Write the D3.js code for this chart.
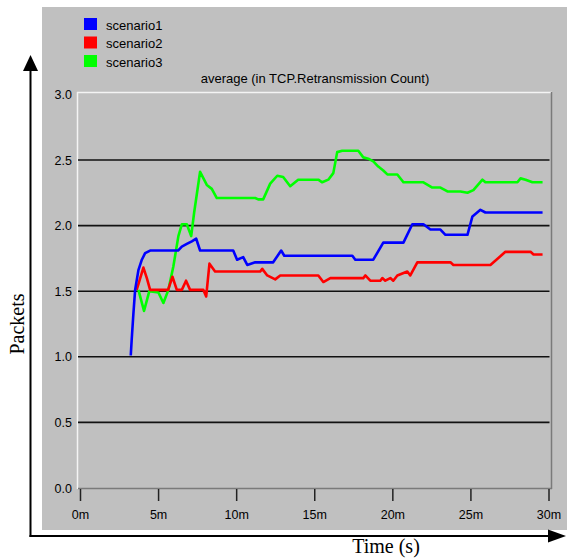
<!DOCTYPE html>
<html>
<head>
<meta charset="utf-8">
<script src="https://cdn.jsdelivr.net/npm/d3@7"></script>
<style>
body { margin: 0; background: #fff; }
svg text { font-family: "Liberation Sans", Arial, sans-serif; }
svg text.serif { font-family: "Liberation Serif", "Times New Roman", serif; }
</style>
</head>
<body>
<svg width="567" height="558"></svg>
<script>
// values (time in minutes)
var seriesNames = ["scenario1", "scenario2", "scenario3"];
var seriesColors = ["#0000ff", "#ff0000", "#00ff00"];

var s1Time = [3.25, 3.31, 3.42, 3.53, 3.74, 3.96, 4.17, 4.49, 6.28, 6.52, 6.84, 7.16, 7.44, 7.69, 9.81, 10.06, 10.45, 10.71, 11.22, 12.37, 12.88, 13.08, 17.44, 17.63, 18.78, 19.42, 20.71, 21.28, 21.99, 22.44, 23.08, 23.40, 24.81, 25.13, 25.64, 25.96, 29.62];
var s1Val  = [1.01, 1.13, 1.33, 1.51, 1.66, 1.74, 1.79, 1.81, 1.81, 1.84, 1.86, 1.88, 1.90, 1.81, 1.81, 1.74, 1.76, 1.70, 1.72, 1.72, 1.81, 1.77, 1.77, 1.74, 1.74, 1.87, 1.87, 2.01, 2.01, 1.97, 1.97, 1.93, 1.93, 2.07, 2.12, 2.10, 2.10];

var s2Time = [3.63, 4.06, 4.28, 4.49, 5.64, 5.92, 6.20, 6.52, 6.79, 7.05, 7.90, 8.08, 8.29, 8.65, 11.54, 11.67, 11.99, 12.50, 12.82, 15.26, 15.58, 16.03, 18.14, 18.27, 18.59, 19.23, 19.36, 19.55, 19.87, 20.06, 20.32, 20.96, 21.15, 21.60, 23.72, 23.91, 26.28, 27.24, 28.85, 29.04, 29.62];
var s2Val  = [1.51, 1.68, 1.60, 1.51, 1.51, 1.61, 1.51, 1.51, 1.58, 1.51, 1.51, 1.46, 1.71, 1.65, 1.65, 1.67, 1.62, 1.59, 1.62, 1.62, 1.57, 1.60, 1.60, 1.62, 1.58, 1.58, 1.60, 1.58, 1.60, 1.58, 1.62, 1.65, 1.62, 1.72, 1.72, 1.70, 1.70, 1.80, 1.80, 1.78, 1.78];

var s3Time = [3.74, 4.10, 4.44, 5.02, 5.34, 5.66, 5.98, 6.30, 6.52, 6.84, 7.12, 7.31, 7.69, 8.12, 8.44, 8.76, 11.22, 11.41, 11.73, 12.18, 12.63, 13.01, 13.46, 13.97, 15.26, 15.51, 15.90, 16.22, 16.47, 16.79, 17.82, 18.14, 18.46, 18.78, 19.10, 19.42, 19.68, 20.32, 20.71, 21.99, 22.56, 23.08, 23.53, 24.36, 24.81, 25.19, 25.77, 25.96, 28.01, 28.21, 28.53, 28.97, 29.62];
var s3Val  = [1.51, 1.35, 1.50, 1.49, 1.41, 1.51, 1.69, 1.92, 2.01, 2.01, 1.92, 2.10, 2.41, 2.31, 2.28, 2.21, 2.21, 2.20, 2.20, 2.32, 2.38, 2.37, 2.30, 2.35, 2.35, 2.33, 2.35, 2.40, 2.56, 2.57, 2.57, 2.52, 2.51, 2.49, 2.45, 2.42, 2.39, 2.39, 2.33, 2.33, 2.29, 2.29, 2.26, 2.26, 2.25, 2.27, 2.35, 2.33, 2.33, 2.36, 2.35, 2.33, 2.33];

var yTicks = [0, 0.5, 1.0, 1.5, 2.0, 2.5, 3.0];
var xTicks = [0, 5, 10, 15, 20, 25, 30];

var svg = d3.select("svg");

var x = d3.scaleLinear().domain([0, 30]).range([80, 548.5]);
var y = d3.scaleLinear().domain([0, 3]).range([488, 94.4]);

// grey panel
svg.append("rect")
    .attr("x", 42).attr("y", 7)
    .attr("width", 525).attr("height", 523)
    .attr("fill", "#c0c0c0");

// legend
var leg = svg.append("g");
seriesNames.forEach(function(name, i) {
  leg.append("rect")
    .attr("x", 84).attr("y", 18 + i * 18.5)
    .attr("width", 13).attr("height", 12)
    .attr("fill", seriesColors[i]);
  leg.append("text")
    .attr("x", 106).attr("y", 29.5 + i * 18.5)
    .attr("font-size", 13)
    .attr("fill", "#000")
    .text(name);
});

svg.append("text")
    .attr("x", 315).attr("y", 83)
    .attr("text-anchor", "middle")
    .attr("font-size", 13)
    .text("average (in TCP.Retransmission Count)");

// plot frame
svg.append("line").attr("x1", 77).attr("x2", 552).attr("y1", 92.5).attr("y2", 92.5)
    .attr("stroke", "#f4f4f4").attr("stroke-width", 1.5);
svg.append("line").attr("x1", 77.5).attr("x2", 77.5).attr("y1", 92).attr("y2", 489)
    .attr("stroke", "#f4f4f4").attr("stroke-width", 1.5);
svg.append("line").attr("x1", 551.5).attr("x2", 551.5).attr("y1", 92).attr("y2", 489)
    .attr("stroke", "#7a7a7a").attr("stroke-width", 1.5);

// grid lines
svg.append("g").selectAll("line")
  .data(yTicks.filter(function(d) { return d > 0 && d < 3; }))
  .enter().append("line")
    .attr("x1", 78).attr("x2", 549.5)
    .attr("y1", function(d) { return y(d); })
    .attr("y2", function(d) { return y(d); })
    .attr("stroke", "#111").attr("stroke-width", 1.6);

svg.append("line").attr("x1", 78).attr("x2", 552).attr("y1", 488.5).attr("y2", 488.5)
    .attr("stroke", "#7a7a7a").attr("stroke-width", 1.5);

// y axis labels
svg.append("g")
    .attr("transform", "translate(74,0)")
    .call(d3.axisLeft(y).tickValues(yTicks).tickSize(0).tickPadding(2).tickFormat(d3.format(".1f")))
    .call(function(g) { g.select(".domain").remove(); })
    .selectAll("text")
    .attr("font-size", 12.5)
    .attr("fill", "#000");

// x axis
var xa = svg.append("g")
    .attr("transform", "translate(0,489)")
    .call(d3.axisBottom(x).tickValues(xTicks).tickSize(12).tickPadding(9)
      .tickFormat(function(d) { return d + "m"; }));
xa.select(".domain").remove();
xa.selectAll("line").attr("stroke", "#222").attr("stroke-width", 1.5);
xa.selectAll("text")
    .attr("font-size", 12.5)
    .attr("fill", "#000");

// series lines
var line = d3.line()
    .x(function(d) { return x(d[0]); })
    .y(function(d) { return y(d[1]); });

var series = [
  d3.zip(s1Time, s1Val),
  d3.zip(s2Time, s2Val),
  d3.zip(s3Time, s3Val)
];

// green first, blue on top
[2, 1, 0].forEach(function(i) {
  svg.append("path")
    .datum(series[i])
    .attr("d", line)
    .attr("fill", "none")
    .attr("stroke", seriesColors[i])
    .attr("stroke-width", 2.6)
    .attr("stroke-linejoin", "round");
});

// outer arrows
svg.append("line").attr("x1", 30.5).attr("x2", 30.5).attr("y1", 537).attr("y2", 68)
    .attr("stroke", "#000").attr("stroke-width", 2);
svg.append("path").attr("d", "M30.5,55 L23,71 L38,71 Z").attr("fill", "#000");
svg.append("line").attr("x1", 29.5).attr("x2", 552).attr("y1", 536).attr("y2", 536)
    .attr("stroke", "#000").attr("stroke-width", 2);
svg.append("path").attr("d", "M566,536 L548,529.5 L548,542.5 Z").attr("fill", "#000");

svg.append("text")
    .attr("class", "serif")
    .attr("transform", "translate(24,324) rotate(-90)")
    .attr("text-anchor", "middle")
    .attr("font-size", 20)
    .text("Packets");

svg.append("text")
    .attr("class", "serif")
    .attr("x", 386).attr("y", 553)
    .attr("text-anchor", "middle")
    .attr("font-size", 20)
    .text("Time (s)");
</script>
</body>
</html>
